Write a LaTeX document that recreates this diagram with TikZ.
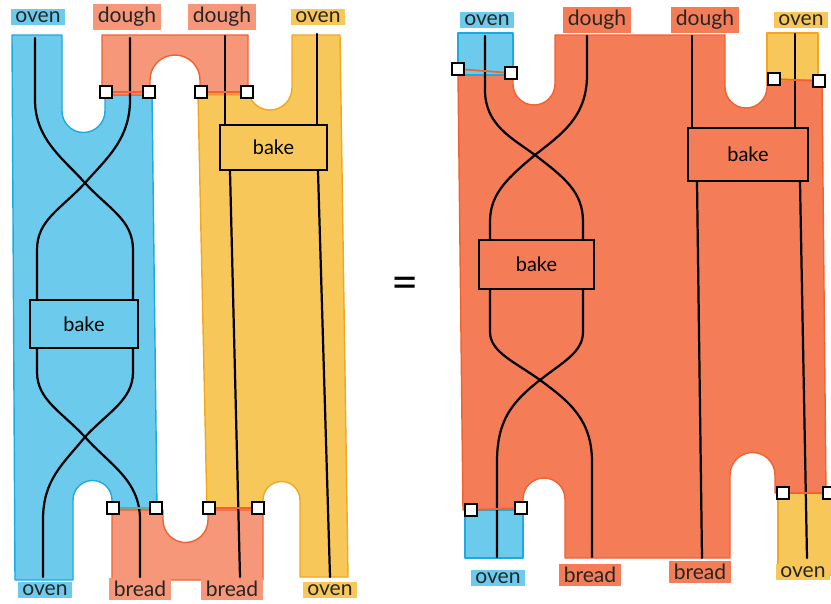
\documentclass[tikz,border=0pt]{standalone}
\usepackage{fontspec}
\setmainfont{Lato}
\definecolor{bluef}{HTML}{6CCBEC}
\definecolor{bluee}{HTML}{1DAADF}
\definecolor{salf}{HTML}{F6977A}
\definecolor{sale}{HTML}{F0622F}
\definecolor{salR}{HTML}{F47C57}
\definecolor{yelf}{HTML}{F8C75A}
\definecolor{yele}{HTML}{F0A820}
\tikzset{
  region/.style={line width=1.2pt, line join=round},
  lab/.style={inner xsep=4pt, inner ysep=2.5pt, font=\fontsize{18}{20}\selectfont, text=black!85},
  bakebox/.style={draw=black, line width=1.8pt, font=\fontsize{17}{19}\selectfont, inner sep=0pt},
  wire/.style={draw=black, line width=1.9pt, line cap=round},
  sq/.style={draw=black, fill=white, line width=1.6pt, minimum size=10pt, inner sep=0pt},
  seam/.style={line width=1.5pt}
}
\begin{document}
\begin{tikzpicture}[x=0.03cm, y=-0.03cm]
\useasboundingbox (0,0) rectangle (831,603);
\fill[white] (0,0) rectangle (831,603);

% ---------------- left diagram regions ----------------
\filldraw[region, fill=bluef, draw=bluee]
  (12,35) -- (62,35) -- (62,111) arc[start angle=180,end angle=0,radius=21.5]
  -- (105,95) -- (152,95) -- (157,510) -- (112,510) -- (112,500)
  arc[start angle=0,end angle=-180,radius=19.5] -- (73,580) -- (15,580) -- cycle;
\filldraw[region, fill=salf, draw=sale]
  (102,35) -- (248,35) -- (248,95) -- (200,95) -- (200,80)
  arc[start angle=0,end angle=-180,radius=25] -- (150,95) -- (102,95) -- cycle;
\filldraw[region, fill=yelf, draw=yele]
  (198,95) -- (248,95) -- (248,88) arc[start angle=180,end angle=0,radius=22]
  -- (292,35) -- (340,35) -- (348,577) -- (300,577) -- (300,500)
  arc[start angle=0,end angle=-180,radius=18.5] -- (263,510) -- (207,510) -- cycle;
\filldraw[region, fill=salf, draw=sale]
  (112,510) -- (163,510) -- (163,520) arc[start angle=180,end angle=0,radius=22.5]
  -- (208,510) -- (263,510) -- (263,580) -- (112,580) -- cycle;

% ---------------- right diagram regions ----------------
\filldraw[region, fill=salR, draw=sale]
  (458,75) -- (513,75) -- (513,84) arc[start angle=180,end angle=0,radius=21]
  -- (555,35) -- (725,35) -- (725,87) arc[start angle=180,end angle=0,radius=21]
  -- (767,80) -- (822,80) -- (826,493) -- (775,493) -- (775,475)
  arc[start angle=0,end angle=-180,radius=22.5] -- (730,558) -- (565,558) -- (565,499)
  arc[start angle=0,end angle=-180,radius=21] -- (523,510) -- (463,510) -- cycle;
\filldraw[region, fill=bluef, draw=bluee] (458,33) rectangle (513,75);
\filldraw[region, fill=yelf, draw=yele] (767,33) rectangle (818,80);
\filldraw[region, fill=bluef, draw=bluee] (465,510) rectangle (523,558);
\filldraw[region, fill=yelf, draw=yele] (778,493) rectangle (836,575);

% ---------------- labels ----------------
\node[lab, fill=bluef] (lt1) at (38,17) {oven};
\node[lab, fill=salf]  (lt2) at (127,17) {dough};
\node[lab, fill=salf]  (lt3) at (222,17) {dough};
\node[lab, fill=yelf]  (lt4) at (318,17) {oven};
\node[lab, fill=bluef] (lb1) at (45,590) {oven};
\node[lab, fill=salf]  (lb2) at (140,589) {bread};
\node[lab, fill=salf]  (lb3) at (232,589) {bread};
\node[lab, fill=yelf]  (lb4) at (330,590) {oven};

\node[lab, fill=bluef] (rt1) at (487,20) {oven};
\node[lab, fill=salR]  (rt2) at (597,20) {dough};
\node[lab, fill=salR]  (rt3) at (705,20) {dough};
\node[lab, fill=yelf]  (rt4) at (801,20) {oven};
\node[lab, fill=bluef] (rb1) at (498,578) {oven};
\node[lab, fill=salR]  (rb2) at (590,575) {bread};
\node[lab, fill=salR]  (rb3) at (700,572) {bread};
\node[lab, fill=yelf]  (rb4) at (803,572) {oven};

\node[font=\fontsize{40}{40}\selectfont] (eq) at (405,288) {=};

% ---------------- bake boxes ----------------
\node[bakebox, fill=bluef, minimum width=3.24cm, minimum height=1.44cm] (bL1) at (84,324) {bake};
\node[bakebox, fill=yelf,  minimum width=3.21cm, minimum height=1.35cm] (bL2) at (273.5,147.5) {bake};
\node[bakebox, fill=salR,  minimum width=3.45cm, minimum height=1.47cm] (bR1) at (536.5,264.5) {bake};
\node[bakebox, fill=salR,  minimum width=3.60cm, minimum height=1.59cm] (bR2) at (748,154.5) {bake};

% ---------------- wires: left ----------------
\coordinate (a1) at (35,38);   \coordinate (a2) at (130,38);
\coordinate (a3) at (225,36);  \coordinate (a4) at (317,34);
\coordinate (z1) at (43,577);  \coordinate (z2) at (140,577);
\coordinate (z3) at (240,577); \coordinate (z4) at (330,577);
\coordinate (xL1) at (85,183); \coordinate (xL2) at (85,437);

\draw[wire] (a1) -- (35,100) .. controls (35,140) and (65,160) .. (xL1)
  .. controls (110,210) and (133,220) .. (133,250) -- (bL1.north -| 133,0);
\draw[wire] (a2) -- (130,100) .. controls (130,140) and (105,160) .. (xL1)
  .. controls (60,210) and (37,220) .. (37,250) -- (bL1.north -| 37,0);
\draw[wire] (bL1.south -| 37,0) -- (37,372) .. controls (37,400) and (62,412) .. (xL2)
  .. controls (110,465) and (140,480) .. (140,520) -- (z2);
\draw[wire] (bL1.south -| 133,0) -- (133,372) .. controls (133,400) and (108,412) .. (xL2)
  .. controls (62,465) and (43,480) .. (43,520) -- (z1);
\draw[wire] (a3) -- (bL2.north -| 225,0);
\draw[wire] (a4) -- (bL2.north -| 317,0);
\draw[wire] (bL2.south -| 230,0) -- (z3);
\draw[wire] (bL2.south -| 318,0) -- (z4);

% ---------------- wires: right ----------------
\coordinate (c1) at (485,36);  \coordinate (c2) at (587,36);
\coordinate (c3) at (692,36);  \coordinate (c4) at (795,34);
\coordinate (y1) at (497,557); \coordinate (y2) at (592,557);
\coordinate (y3) at (702,558); \coordinate (y4) at (807,558);
\coordinate (xR1) at (535,155); \coordinate (xR2) at (540,380);

\draw[wire] (c1) -- (485,90) .. controls (485,125) and (512,138) .. (xR1)
  .. controls (565,178) and (583,192) .. (583,222) -- (bR1.north -| 583,0);
\draw[wire] (c2) -- (587,75) .. controls (587,118) and (560,135) .. (xR1)
  .. controls (505,180) and (490,195) .. (490,222) -- (bR1.north -| 490,0);
\draw[wire] (bR1.south -| 490,0) -- (490,332) .. controls (490,352) and (515,362) .. (xR2)
  .. controls (570,402) and (592,420) .. (592,462) -- (y2);
\draw[wire] (bR1.south -| 583,0) -- (583,332) .. controls (583,352) and (563,362) .. (xR2)
  .. controls (512,402) and (497,420) .. (497,462) -- (y1);
\draw[wire] (c3) -- (bR2.north -| 692,0);
\draw[wire] (c4) -- (bR2.north -| 795,0);
\draw[wire] (bR2.south -| 697,0) -- (y3);
\draw[wire] (bR2.south -| 800,0) -- (y4);

% ---------------- seams and squares ----------------
\node[sq] (s1) at (106,92) {};  \node[sq] (s2) at (149,92) {};
\node[sq] (s3) at (201,92) {};  \node[sq] (s4) at (247,92) {};
\node[sq] (s5) at (113,508) {}; \node[sq] (s6) at (156,508) {};
\node[sq] (s7) at (209,508) {}; \node[sq] (s8) at (258,508) {};
\node[sq] (t1) at (458,69) {};  \node[sq] (t2) at (511,73) {};
\node[sq] (t3) at (774,79) {};  \node[sq] (t4) at (819,81) {};
\node[sq] (t5) at (471,510) {}; \node[sq] (t6) at (521,508) {};
\node[sq] (t7) at (783,493) {}; \node[sq] (t8) at (829,493) {};

\draw[seam, sale] (s1) -- (s2);
\draw[seam, sale] (s3) -- (s4);
\draw[seam, bluee!60!yele] (s5) -- (s6);
\draw[seam, sale] (s7) -- (s8);
\draw[seam, sale] (t1) -- (t2);
\draw[seam, sale] (t3) -- (t4);
\draw[seam, sale] (t5) -- (t6);
\draw[seam, sale] (t7) -- (t8);
\end{tikzpicture}
\end{document}
